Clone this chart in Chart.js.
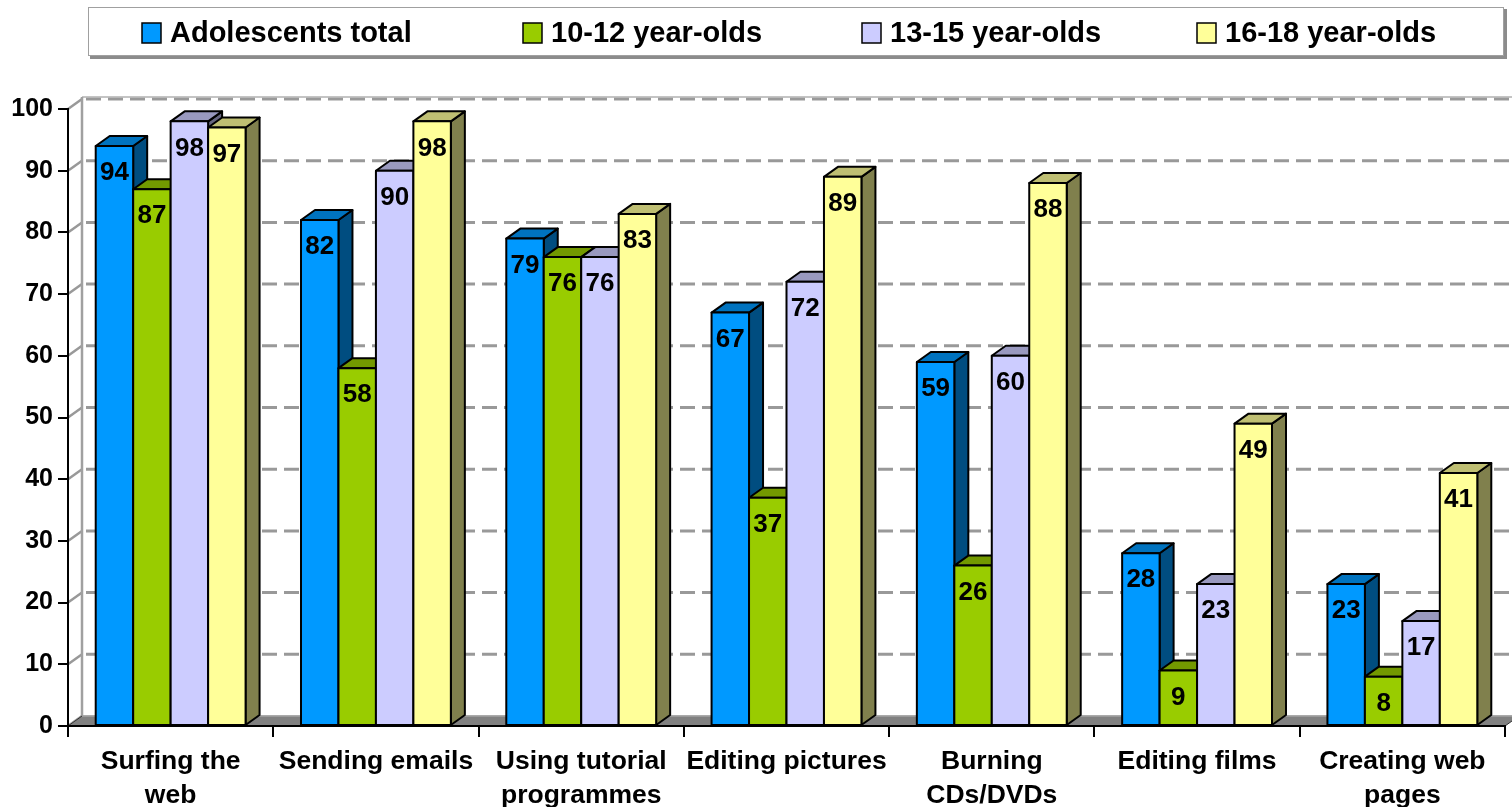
<!DOCTYPE html>
<html lang="en">
<head>
<meta charset="UTF-8">
<title>Computer activities of adolescents</title>
<script src="https://cdn.jsdelivr.net/npm/chart.js"></script>
<style>
    body { margin: 0; background: #fff; }
    #wrap { width: 1512px; height: 807px; }
</style>
</head>
<body>
<div id="wrap"><canvas id="chart" width="1512" height="807"></canvas></div>
<script>
    // data
    const categories = [['Surfing the', 'web'], 'Sending emails', ['Using tutorial', 'programmes'],
        'Editing pictures', ['Burning', 'CDs/DVDs'], 'Editing films', ['Creating web', 'pages']];
    const seriesNames = ['Adolescents total', '10-12 year-olds', '13-15 year-olds', '16-18 year-olds'];
    const totalValues = [94, 82, 79, 67, 59, 28, 23];
    const age10to12 = [87, 58, 76, 37, 26, 9, 8];
    const age13to15 = [98, 90, 76, 72, 60, 23, 17];
    const age16to18 = [97, 98, 83, 89, 88, 49, 41];

    // styles
    const frontColors = ['#0099FF', '#99CC00', '#CCCCFF', '#FFFF99'];
    const topColors = ['#0073BF', '#739900', '#9999BF', '#BFBF73'];
    const sideColors = ['#004D80', '#4D6600', '#666680', '#80804D'];
    const legendX = [142, 523, 862, 1197];
    const DX = 14, DY = -10;
    const FONT = '"Liberation Sans", Arial, Helvetica, sans-serif';

    function poly(ctx, pts, fill) {
        ctx.beginPath();
        ctx.moveTo(pts[0][0], pts[0][1]);
        for (let i = 1; i < pts.length; i++) ctx.lineTo(pts[i][0], pts[i][1]);
        ctx.closePath();
        ctx.fillStyle = fill;
        ctx.fill();
        ctx.stroke();
    }

    function line(ctx, x1, y1, x2, y2) {
        ctx.beginPath();
        ctx.moveTo(x1, y1);
        ctx.lineTo(x2, y2);
        ctx.stroke();
    }

    // back wall, floor and grid lines (drawn behind the axes)
    const wallPlugin = {
        id: 'wall',
        beforeDraw(chart) {
            const { ctx, chartArea: a, scales: { y } } = chart;
            ctx.save();
            ctx.fillStyle = '#fff';
            ctx.fillRect(0, 0, chart.width, chart.height);

            // grid on back wall
            y.ticks.forEach(t => {
                const py = y.getPixelForValue(t.value);
                if (t.value > 0) {
                    ctx.strokeStyle = '#999';
                    ctx.lineWidth = 3;
                    ctx.setLineDash([15, 7]);
                    line(ctx, a.left + DX + 4, py + DY, chart.width, py + DY);
                    ctx.setLineDash([]);
                }
                ctx.strokeStyle = '#999';
                ctx.lineWidth = 2.5;
                line(ctx, a.left, py, a.left + DX, py + DY);
            });

            ctx.strokeStyle = '#b0b0b0';
            ctx.lineWidth = 1.5;
            line(ctx, a.left + DX, a.top + DY - 2, chart.width, a.top + DY - 2);
            ctx.strokeStyle = '#a0a0a0';
            ctx.lineWidth = 2.5;
            line(ctx, a.left + DX, a.top + DY - 2, a.left + DX, a.bottom + DY);

            // floor
            ctx.strokeStyle = '#333';
            ctx.lineWidth = 1;
            poly(ctx, [[a.left, a.bottom], [a.right, a.bottom], [a.right + DX, a.bottom + DY], [a.left + DX, a.bottom + DY]], '#808080');
            ctx.strokeStyle = '#b0b0b0';
            ctx.lineWidth = 1.5;
            line(ctx, a.left + DX, a.bottom + DY, a.right + DX, a.bottom + DY);
            ctx.restore();
        }
    };

    // 3D bars with value labels
    const barsPlugin = {
        id: 'bars3d',
        beforeDatasetsDraw(chart) {
            const ctx = chart.ctx;
            const metas = chart.data.datasets.map((d, i) => chart.getDatasetMeta(i));
            ctx.save();
            ctx.strokeStyle = '#000';
            ctx.lineWidth = 2;
            ctx.lineJoin = 'round';
            for (let c = 0; c < categories.length; c++) {
                metas.forEach((meta, d) => {
                    const { x, y, base, width } = meta.data[c].getProps(['x', 'y', 'base', 'width'], true);
                    const l = x - width / 2, r = x + width / 2;
                    poly(ctx, [[r, y], [r + DX, y + DY], [r + DX, base + DY], [r, base]], sideColors[d]);
                    poly(ctx, [[l, y], [r, y], [r + DX, y + DY], [l + DX, y + DY]], topColors[d]);
                    poly(ctx, [[l, y], [r, y], [r, base], [l, base]], frontColors[d]);
                });
            }
            ctx.fillStyle = '#000';
            ctx.font = 'bold 26px ' + FONT;
            ctx.textAlign = 'center';
            ctx.textBaseline = 'middle';
            metas.forEach((meta, d) => {
                meta.data.forEach((bar, c) => {
                    const v = chart.data.datasets[d].data[c];
                    ctx.fillText(String(v), bar.x, bar.y + 27);
                });
            });
            ctx.restore();
            return false;
        }
    };

    // framed legend at the top
    const legendPlugin = {
        id: 'boxLegend',
        afterDraw(chart) {
            const ctx = chart.ctx;
            ctx.save();
            ctx.fillStyle = '#8c8c8c';
            ctx.fillRect(90, 9, 1417, 50);
            ctx.fillStyle = '#fff';
            ctx.fillRect(88, 7, 1416, 49);
            ctx.strokeStyle = '#a0a0a0';
            ctx.lineWidth = 1;
            ctx.strokeRect(88.5, 7.5, 1415, 48);

            ctx.font = 'bold 29px ' + FONT;
            ctx.textBaseline = 'middle';
            ctx.textAlign = 'left';
            chart.data.datasets.forEach((ds, i) => {
                const bx = legendX[i];
                ctx.fillStyle = ds.backgroundColor;
                ctx.fillRect(bx, 23, 19, 20);
                ctx.strokeStyle = '#000';
                ctx.lineWidth = 1.5;
                ctx.strokeRect(bx, 23, 19, 20);
                ctx.fillStyle = '#000';
                ctx.fillText(ds.label, bx + 28, 34);
            });
            ctx.restore();
        }
    };

    const seriesValues = [totalValues, age10to12, age13to15, age16to18];

    new Chart(document.getElementById('chart'), {
        type: 'bar',
        data: {
            labels: categories,
            datasets: seriesNames.map((name, i) => ({
                label: name,
                data: seriesValues[i],
                backgroundColor: frontColors[i],
                categoryPercentage: 0.73,
                barPercentage: 1.0
            }))
        },
        options: {
            responsive: false,
            devicePixelRatio: 1,
            animation: false,
            layout: { padding: { top: 109, right: 7, left: 0, bottom: 0 } },
            plugins: { legend: { display: false }, tooltip: { enabled: false } },
            scales: {
                x: {
                    grid: { offset: true, drawOnChartArea: false, color: '#000', lineWidth: 2, tickLength: 11 },
                    border: { color: '#000', width: 2 },
                    ticks: {
                        color: '#000', maxRotation: 0, minRotation: 0, autoSkip: false, padding: 7,
                        font: { family: FONT, size: 26.5, weight: 'bold', lineHeight: 1.3 }
                    },
                    afterFit(scale) { scale.height = 81; }
                },
                y: {
                    min: 0,
                    max: 100,
                    grid: { drawOnChartArea: false, color: '#000', lineWidth: 2, tickLength: 10 },
                    border: { color: '#000', width: 2 },
                    ticks: {
                        stepSize: 10, color: '#000', padding: 5,
                        font: { family: FONT, size: 25, weight: 'bold' }
                    },
                    afterFit(scale) { scale.width = 68; }
                }
            }
        },
        plugins: [wallPlugin, barsPlugin, legendPlugin]
    });
</script>
</body>
</html>
